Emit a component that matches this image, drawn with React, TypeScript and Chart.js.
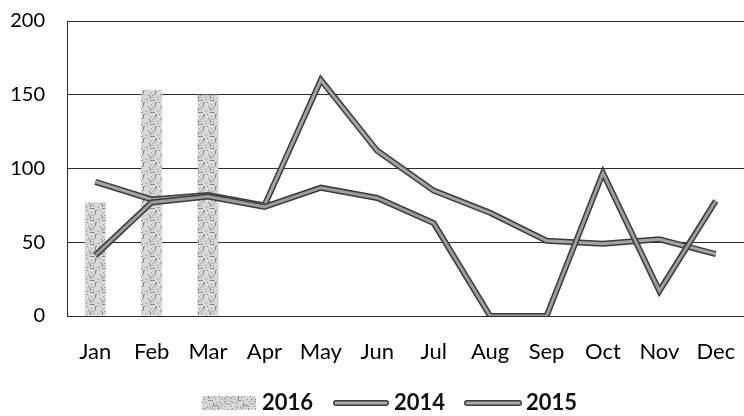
import React, { useEffect, useRef } from "react";
import { Chart, registerables } from "chart.js";

Chart.register(...registerables);

const months = ["Jan", "Feb", "Mar", "Apr", "May", "Jun", "Jul", "Aug", "Sep", "Oct", "Nov", "Dec"];
const values2016 = [77, 153, 150, null, null, null, null, null, null, null, null, null];
const values2014 = [91, 79, 82, 75, 160, 112, 85, 70, 51, 49, 52, 42];
const values2015 = [41, 77, 81, 74, 87, 80, 63, 0, 0, 97, 17, 78];
const yTickValues = [0, 50, 100, 150, 200];

const FONT = "Lato, 'Liberation Sans', sans-serif";

function makeStippleCanvas(w: number, h: number): HTMLCanvasElement {
  const c = document.createElement("canvas");
  c.width = w;
  c.height = h;
  const g = c.getContext("2d")!;
  g.fillStyle = "#d2d2d2";
  g.fillRect(0, 0, w, h);
  g.fillStyle = "#8a8a8a";
  for (let y = 0; y < h; y++) {
    for (let x = 0; x < w; x++) {
      if ((x * 7 + y * 11 + ((x * y) % 5)) % 6 === 0) g.fillRect(x, y, 1, 1);
    }
  }
  g.fillStyle = "#ececec";
  for (let y = 0; y < h; y++) {
    for (let x = 0; x < w; x++) {
      if ((x * 5 + y * 3 + ((x + y * y) % 4)) % 7 === 0) g.fillRect(x, y, 1, 1);
    }
  }
  return c;
}

function makeLineMarker(w: number): HTMLCanvasElement {
  const c = document.createElement("canvas");
  c.width = w;
  c.height = 8;
  const g = c.getContext("2d")!;
  g.lineCap = "round";
  g.strokeStyle = "#3c3c3c";
  g.lineWidth = 6;
  g.beginPath();
  g.moveTo(3, 4);
  g.lineTo(w - 3, 4);
  g.stroke();
  g.strokeStyle = "#a8a8a8";
  g.lineWidth = 3;
  g.beginPath();
  g.moveTo(3, 4);
  g.lineTo(w - 3, 4);
  g.stroke();
  return c;
}

const legendShift = {
  id: "legendShift",
  afterLayout(chart: any) {
    if (chart.legend) {
      chart.legend.left += 20;
      chart.legend.right += 20;
    }
  },
};

export default function App() {
  const canvasRef = useRef<HTMLCanvasElement | null>(null);

  useEffect(() => {
    const canvas = canvasRef.current;
    if (!canvas) return;
    const ctx = canvas.getContext("2d")!;
    const tile = makeStippleCanvas(12, 12);
    const pattern = ctx.createPattern(tile, "repeat") || "#c8c8c8";
    const markers: Record<number, HTMLCanvasElement> = {
      0: makeStippleCanvas(54, 14),
      2: makeLineMarker(56),
      4: makeLineMarker(58),
    };

    const outline = "#3a3a3a";
    const inner = "#a4a4a4";

    const chart = new Chart(canvas, {
      type: "bar",
      data: {
        labels: months,
        datasets: [
          {
            type: "bar",
            label: "2016",
            data: values2016,
            backgroundColor: pattern as any,
            borderWidth: 0,
            barPercentage: 0.37,
            categoryPercentage: 1,
            order: 10,
          },
          {
            type: "line",
            label: "",
            data: values2014,
            borderColor: outline,
            borderWidth: 6,
            pointRadius: 0,
            tension: 0,
            order: 5,
          },
          {
            type: "line",
            label: "2014",
            data: values2014,
            borderColor: inner,
            borderWidth: 3,
            pointRadius: 0,
            tension: 0,
            order: 4,
          },
          {
            type: "line",
            label: "",
            data: values2015,
            borderColor: outline,
            borderWidth: 6,
            pointRadius: 0,
            tension: 0,
            order: 3,
          },
          {
            type: "line",
            label: "2015",
            data: values2015,
            borderColor: "#9c9c9c",
            borderWidth: 3,
            pointRadius: 0,
            tension: 0,
            order: 2,
          },
        ] as any,
      },
      options: {
        animation: false,
        responsive: true,
        maintainAspectRatio: false,
        layout: { padding: { top: 21, right: 0, bottom: -8, left: 0 } },
        plugins: {
          tooltip: { enabled: false },
          legend: {
            position: "bottom",
            labels: {
              usePointStyle: true,
              pointStyleWidth: 44,
              boxHeight: 14,
              padding: 26,
              color: "#111",
              font: { family: FONT, size: 22, weight: "bold" },
              generateLabels: (ch: any) => {
                const items = (Chart.defaults.plugins.legend.labels as any).generateLabels(ch);
                return items
                  .filter((it: any) => markers[it.datasetIndex])
                  .sort((a: any, b: any) => a.datasetIndex - b.datasetIndex)
                  .map((it: any) => ({ ...it, pointStyle: markers[it.datasetIndex] }));
              },
            },
          },
        },
        scales: {
          x: {
            grid: { display: false },
            border: { display: false },
            afterFit: (scale: any) => {
              scale.paddingLeft = 0;
              scale.paddingRight = 0;
              scale.height = 50;
            },
            ticks: {
              color: "#000",
              padding: 15,
              font: { family: FONT, size: 22 },
              maxRotation: 0,
              autoSkip: false,
            },
          },
          y: {
            min: 0,
            max: 200,
            afterFit: (scale: any) => {
              scale.width = 67;
              scale.paddingTop = 0;
              scale.paddingBottom = 0;
            },
            afterBuildTicks: (scale: any) => {
              scale.ticks = yTickValues.map((v) => ({ value: v }));
            },
            grid: { color: "#2a2a2a", lineWidth: 1, drawTicks: false },
            border: { display: true, color: "#2a2a2a", width: 1 },
            ticks: {
              color: "#000",
              padding: 22,
              font: { family: FONT, size: 20 },
            },
          },
        },
      } as any,
      plugins: [legendShift],
    });

    return () => chart.destroy();
  }, []);

  return (
    <div style={{ position: "absolute", left: 0, top: 0, width: 744, height: 416, background: "#fff" }}>
      <canvas ref={canvasRef} />
    </div>
  );
}
